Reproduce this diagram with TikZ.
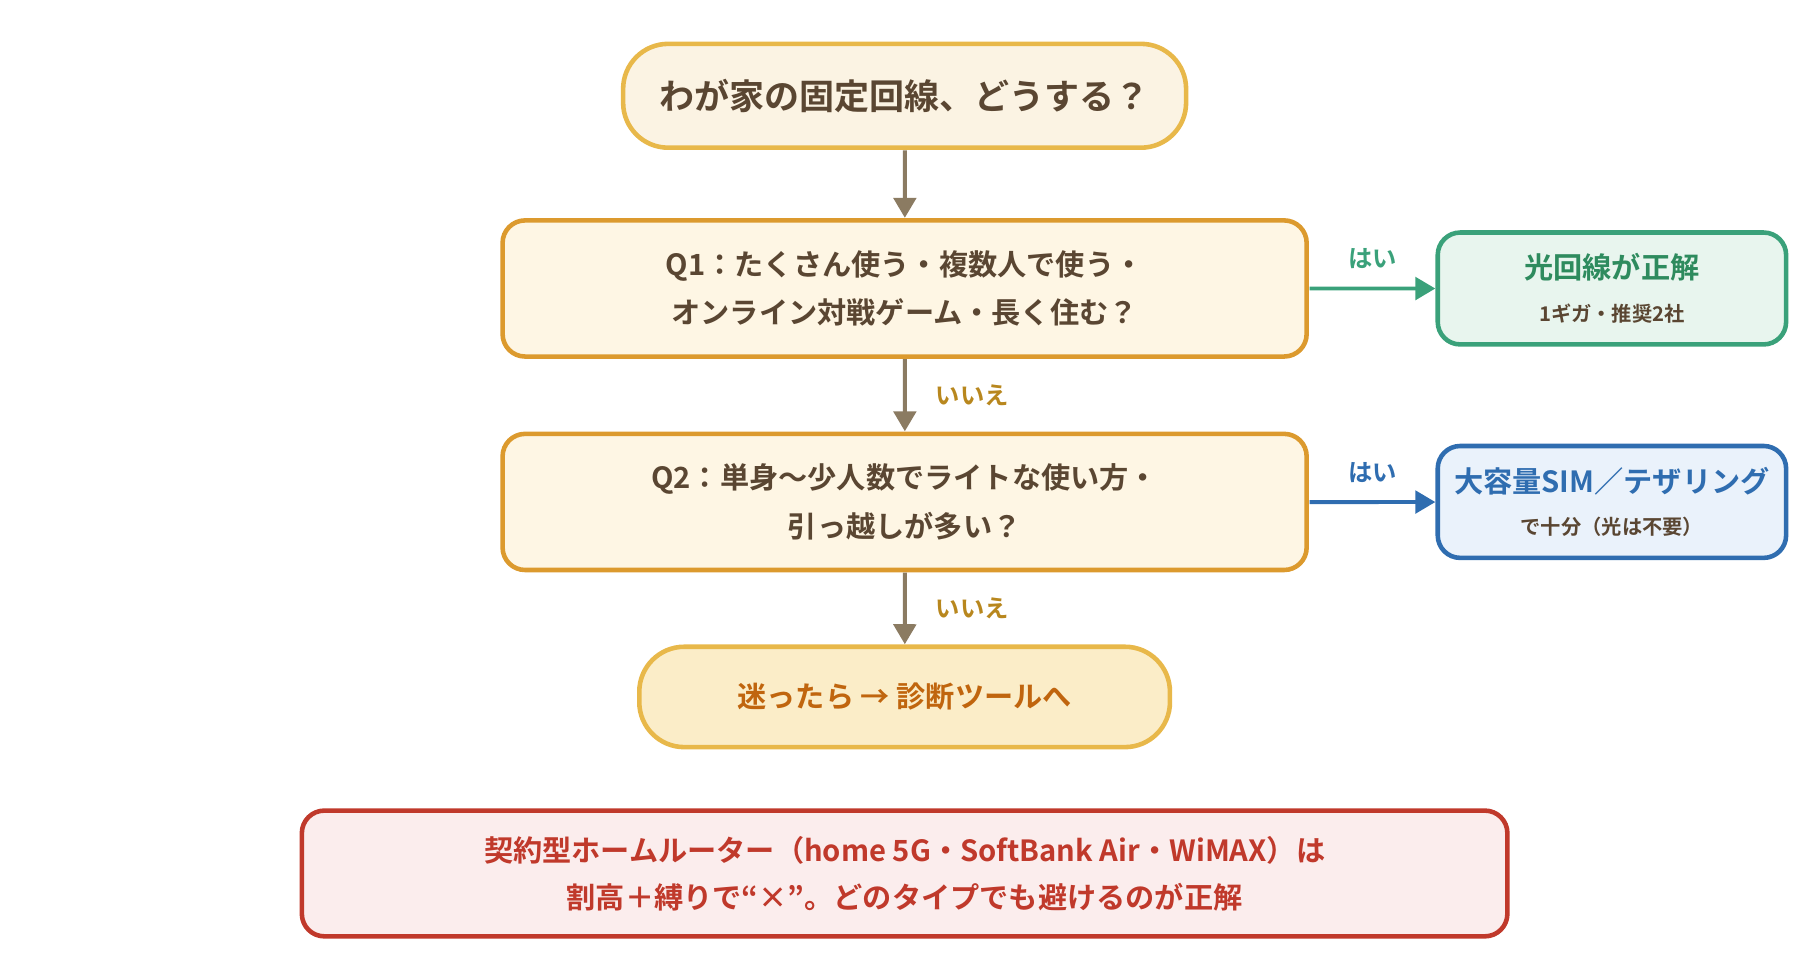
\documentclass[tikz,border=0pt]{standalone}
\usepackage{fontspec}
\setmainfont{Noto Sans CJK JP}[BoldFont={Noto Sans CJK JP Bold}]
\usetikzlibrary{arrows.meta, positioning}
\definecolor{inkbrown}{HTML}{5A4632}
\definecolor{linkbrown}{HTML}{8B7B62}
\definecolor{nogold}{HTML}{B8871E}
\definecolor{yesgreen}{HTML}{3AA17A}
\definecolor{yesblue}{HTML}{2F6DB0}
\definecolor{warnred}{HTML}{C0392B}
\tikzset{
  box/.style={draw, line width=2.6pt, rounded corners=0.45cm, align=center, font=\bfseries, text=inkbrown},
  pill/.style={box, rounded corners=0.9cm},
  flow/.style={-{Triangle[length=0.4cm,width=0.45cm]}, line width=2.2pt, draw=linkbrown},
  lbl/.style={font=\bfseries\large, inner sep=0pt}
}
\begin{document}
\begin{tikzpicture}[x=0.02cm, y=-0.02cm, scale=1.154, every node/.append style={transform shape}]
\useasboundingbox (0,0) rectangle (1560,839);
\node [pill, fill={rgb,255:red,251;green,243;blue,227}, draw={rgb,255:red,232;green,184;blue,74},
  minimum width=9.76cm, minimum height=1.8cm, font=\bfseries\LARGE] (start) at (784,83) {わが家の固定回線、どうする？};
\node [box, fill={rgb,255:red,254;green,246;blue,228}, draw={rgb,255:red,220;green,154;blue,46},
  minimum width=13.94cm, minimum height=2.36cm, font=\bfseries\Large] (q1) at (784,250)
  {Q1：たくさん使う・複数人で使う・\\[6pt]オンライン対戦ゲーム・長く住む？};
\node [box, fill={rgb,255:red,254;green,246;blue,228}, draw={rgb,255:red,220;green,154;blue,46},
  minimum width=13.94cm, minimum height=2.36cm, font=\bfseries\Large] (q2) at (784,435)
  {Q2：単身〜少人数でライトな使い方・\\[6pt]引っ越しが多い？};
\node [pill, fill={rgb,255:red,251;green,237;blue,200}, draw={rgb,255:red,232;green,184;blue,74},
  text={rgb,255:red,192;green,101;blue,14}, minimum width=9.2cm, minimum height=1.74cm, font=\bfseries\Large] (tool) at (784,604)
  {迷ったら → 診断ツールへ};
\node [box, fill={rgb,255:red,232;green,245;blue,238}, draw=yesgreen, text={rgb,255:red,46;green,139;blue,94},
  minimum width=6.04cm, minimum height=1.94cm, font=\bfseries\Large] (hikari) at (1397,250)
  {光回線が正解\\[3pt]{\normalsize\color{inkbrown}1ギガ・推奨2社}};
\node [box, fill={rgb,255:red,234;green,242;blue,251}, draw=yesblue, text=yesblue,
  minimum width=6.04cm, minimum height=1.94cm, font=\bfseries\Large] (sim) at (1397,435)
  {大容量SIM／テザリング\\[3pt]{\normalsize\color{inkbrown}で十分（光は不要）}};
\node [box, fill={rgb,255:red,251;green,237;blue,237}, draw=warnred, text=warnred,
  minimum width=20.9cm, minimum height=2.18cm, font=\bfseries\Large] (warn) at (784,757)
  {契約型ホームルーター（home 5G・SoftBank Air・WiMAX）は\\[5pt]割高＋縛りで“×”。どのタイプでも避けるのが正解};
\draw [flow] (start) -- (q1);
\draw [flow] (q1) -- node [lbl, right=0.5cm, text=nogold] {いいえ} (q2);
\draw [flow] (q2) -- node [lbl, right=0.5cm, text=nogold] {いいえ} (tool);
\draw [flow, draw=yesgreen] (q1) -- node [lbl, above=0.3cm, text=yesgreen] {はい} (hikari);
\draw [flow, draw=yesblue] (q2) -- node [lbl, above=0.3cm, text=yesblue] {はい} (sim);
\end{tikzpicture}
\end{document}
